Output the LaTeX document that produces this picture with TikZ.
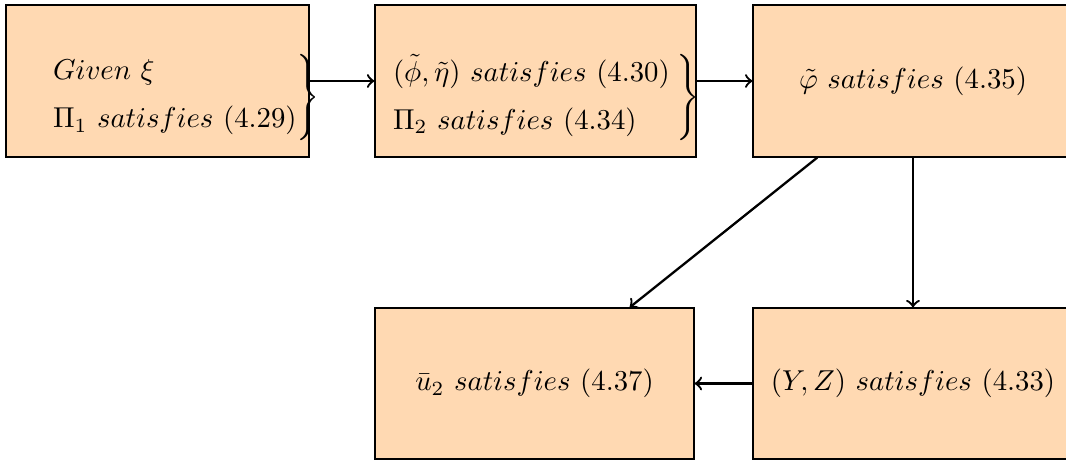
\documentclass[tikz,border=0pt]{standalone}
\usepackage{amsmath}
\begin{document}
\begin{tikzpicture}[x=0.3476pt,y=-0.3476pt,
  box/.style={draw=black,fill=orange!30,inner sep=0pt,minimum height=52.8pt},
  txt/.style={inner sep=0pt,anchor=west},
  conn/.style={->,thick}]
\useasboundingbox (0,0) rectangle (1066,462);
\node[box,minimum width=105.3pt] (b1) at (157.5,81) {};
\node[box,minimum width=111.6pt] (b2) at (535.5,81) {};
\node[box,minimum width=111.2pt] (b3) at (913,81) {$\tilde{\varphi}\ satisfies\ (4.35)$};
\node[box,minimum width=110.9pt,minimum height=52.5pt] (b4) at (534.5,383.5) {$\bar{u}_2\ satisfies\ (4.37)$};
\node[box,minimum width=111.2pt,minimum height=52.5pt] (b5) at (913,383.5) {$(Y,Z)\ satisfies\ (4.33)$};
\node[txt] (t1) at (49,97) {$\left.\begin{array}{@{}l@{}}Given\ \xi\\[4.7pt] \Pi_1\ satisfies\ (4.29)\end{array}\right\}$};
\node[txt] (t2) at (389,97) {$\left.\begin{array}{@{}l@{\hspace{2.5pt}}}(\tilde{\phi},\tilde{\eta})\ satisfies\ (4.30)\\[4.7pt] \Pi_2\ satisfies\ (4.34)\end{array}\right\}$};
\draw[conn] (b1) -- (b2);
\draw[conn] (b2) -- (b3);
\draw[conn] (b3) -- (b4);
\draw[conn] (b3) -- (b5);
\draw[conn] (b5) -- (b4);
\end{tikzpicture}
\end{document}
